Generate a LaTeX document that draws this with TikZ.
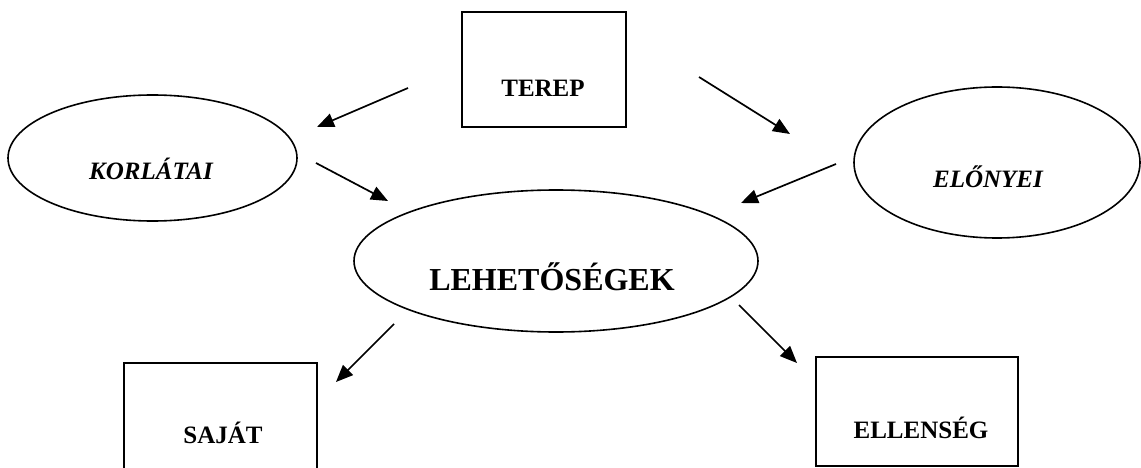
\documentclass[tikz,border=0pt]{standalone}
\usepackage{fontspec}
\setmainfont{Liberation Serif}
\usetikzlibrary{shapes.geometric,arrows.meta}
\tikzset{
  shapebox/.style={draw, line width=1.8pt, rectangle, inner sep=0pt},
  shapeell/.style={draw, line width=1.6pt, ellipse, inner sep=0pt},
  lbl/.style={font=\fontsize{25}{28}\selectfont\bfseries, inner sep=0pt},
  biglbl/.style={font=\fontsize{32}{36}\selectfont\bfseries, inner sep=0pt},
  conn/.style={line width=1.7pt, -{Triangle[length=17pt,width=14pt]}}
}
\begin{document}
\begin{tikzpicture}[x=1pt,y=-1pt]
\useasboundingbox (0,0) rectangle (1141,468);
\clip (0,0) rectangle (1141,468);
% shapes
\node[shapebox, minimum width=164pt, minimum height=115pt] (terep) at (544,69.5) {};
\node[shapeell, minimum width=289pt, minimum height=126pt] (korl) at (152.5,158) {};
\node[shapeell, minimum width=286pt, minimum height=151pt] (elo) at (997,162.5) {};
\node[shapeell, minimum width=404pt, minimum height=142pt] (leh) at (556,261) {};
\node[shapebox, minimum width=193pt, minimum height=140pt] (sajat) at (220.5,433) {};
\node[shapebox, minimum width=202pt, minimum height=109pt] (ellen) at (917,411.5) {};
% labels
\node[lbl] (tereptxt) at (543,88) {TEREP};
\node[lbl] (korltxt) at (151,169) {\itshape KORLÁTAI};
\node[lbl] (elotxt) at (988,177) {\itshape ELŐNYEI};
\node[biglbl] (lehtxt) at (552,277) {LEHETŐSÉGEK};
\node[lbl] (sajattxt) at (223,433) {SAJÁT};
\node[lbl] (ellentxt) at (921,427.5) {ELLENSÉG};
% connector ends
\coordinate (a1s) at (408,88);  \coordinate (a1e) at (317,127);
\coordinate (a2s) at (699,77);  \coordinate (a2e) at (790,134);
\coordinate (a3s) at (316,163); \coordinate (a3e) at (388,201);
\coordinate (a4s) at (836,164); \coordinate (a4e) at (741,203);
\coordinate (a5s) at (394,324); \coordinate (a5e) at (336,382);
\coordinate (a6s) at (739,305); \coordinate (a6e) at (797,363);
\draw[conn] (a1s) -- (a1e);
\draw[conn] (a2s) -- (a2e);
\draw[conn] (a3s) -- (a3e);
\draw[conn] (a4s) -- (a4e);
\draw[conn] (a5s) -- (a5e);
\draw[conn] (a6s) -- (a6e);
\end{tikzpicture}
\end{document}
